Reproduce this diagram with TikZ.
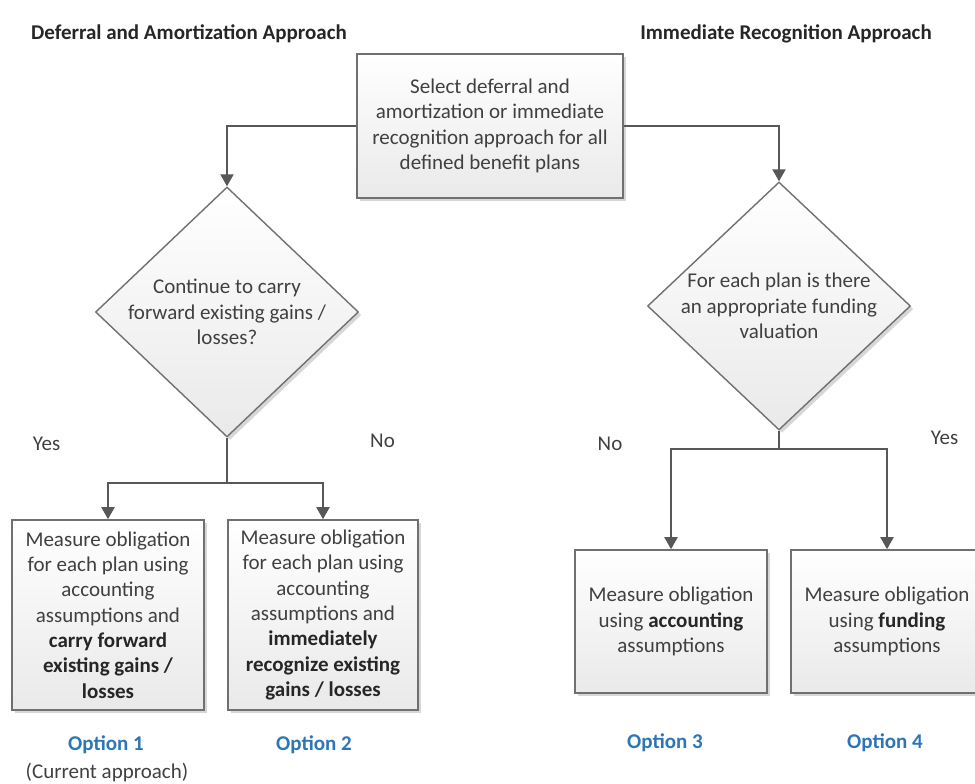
\documentclass[tikz,border=0pt]{standalone}
\usepackage{fontspec}
\setmainfont{Carlito}
\usetikzlibrary{arrows.meta,shadows,shapes.geometric}
\definecolor{txt}{RGB}{64,64,64}
\definecolor{hbold}{RGB}{38,38,38}
\definecolor{bd}{RGB}{112,112,112}
\definecolor{conn}{RGB}{88,88,88}
\definecolor{optblue}{RGB}{46,117,182}
\newcommand\hb[1]{{\bfseries\color{hbold}#1}}
\begin{document}
\begin{tikzpicture}[x=1pt,y=-1pt,
  every node/.style={font=\fontsize{21}{25.3}\selectfont, text=txt},
  shad/.style={drop shadow={shadow xshift=3pt, shadow yshift=-3pt, fill=gray!70, opacity=0.45}},
  box/.style={shad, draw=bd, line width=1.6pt, top color=white, bottom color=gray!17, align=center, inner sep=0pt},
  dia/.style={shad, diamond, draw=bd, line width=1.4pt, top color=white, bottom color=gray!17, inner sep=0pt},
  conn/.style={draw=conn, line width=2pt},
  arr/.style={conn, -{Triangle[width=13pt,length=12pt]}},
  opt/.style={anchor=base, text=optblue, font=\fontsize{21}{25}\selectfont\bfseries},
  lbl/.style={anchor=base},
  head/.style={anchor=base, text=hbold, font=\fontsize{21}{25}\selectfont\bfseries}
]
\useasboundingbox (0,0) rectangle (975,784);

% headers
\node[head] (hl) at (189,40) {Deferral and Amortization Approach};
\node[head] (hr) at (786,40) {Immediate Recognition Approach};

% top box
\node[box, minimum width=266pt, minimum height=144pt] (top) at (490,126)
  {Select deferral and\\amortization or immediate\\recognition approach for all\\defined benefit plans};

% diamonds
\node[dia, minimum width=263pt, minimum height=250pt] (d1) at (227,312) {};
\node[align=center] (t1) at (227,312) {Continue to carry\\forward existing gains /\\losses?};
\node[dia, minimum width=263pt, minimum height=248pt] (d2) at (779,306) {};
\node[align=center] (t2) at (779,306) {For each plan is there\\an appropriate funding\\valuation};

% bottom boxes
\node[box, minimum width=192pt, minimum height=190pt] (b1) at (108,615)
  {Measure obligation\\for each plan using\\accounting\\assumptions and\\\hb{carry forward}\\\hb{existing gains /}\\\hb{losses}};
\node[box, minimum width=190pt, minimum height=190pt] (b2) at (323,615)
  {Measure obligation\\for each plan using\\accounting\\assumptions and\\\hb{immediately}\\\hb{recognize existing}\\\hb{gains / losses}};
\node[box, minimum width=192pt, minimum height=143pt] (b3) at (671,621.5)
  {Measure obligation\\using \hb{accounting}\\assumptions};
\node[box, minimum width=192pt, minimum height=143pt] (b4) at (887,621.5)
  {Measure obligation\\using \hb{funding}\\assumptions};

% connectors
\draw[arr] (top.west) -| (d1.north);
\draw[arr] (top.east) -| (d2.north);
\coordinate (j1) at (227,483);
\coordinate (j2) at (779,449);
\draw[conn] (d1.south) -- (j1);
\draw[arr] (j1) -| (b1.north);
\draw[arr] (j1) -| (b2.north);
\draw[conn] (d2.south) -- (j2);
\draw[arr] (j2) -| (b3.north);
\draw[arr] (j2) -| (b4.north);

% yes / no labels
\node[lbl] (y1) at (46.5,450) {Yes};
\node[lbl] (n1) at (382.5,447) {No};
\node[lbl] (n2) at (610,450) {No};
\node[lbl] (y2) at (944.5,444) {Yes};

% options
\node[opt] (o1) at (106,750) {Option 1};
\node[lbl] (ca) at (107,778) {(Current approach)};
\node[opt] (o2) at (314,750) {Option 2};
\node[opt] (o3) at (665,748) {Option 3};
\node[opt] (o4) at (885,748) {Option 4};
\end{tikzpicture}
\end{document}
